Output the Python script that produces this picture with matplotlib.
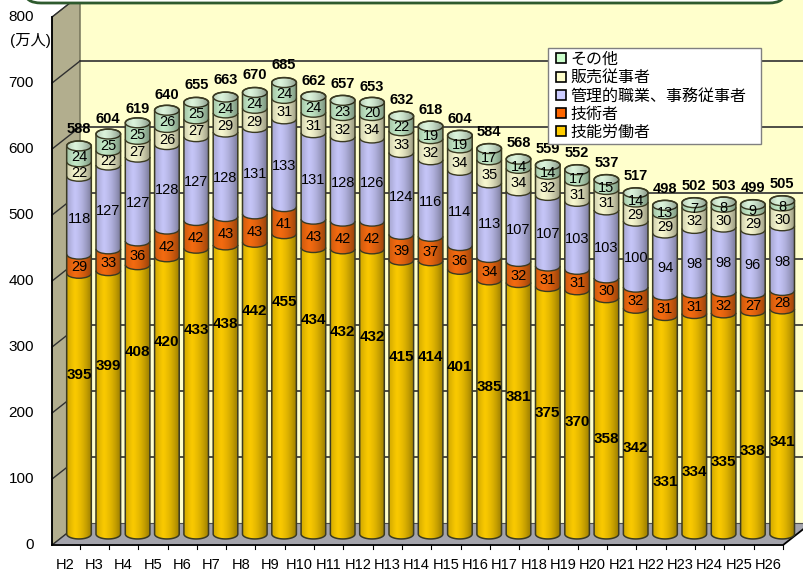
import numpy as np
import matplotlib.pyplot as plt
from matplotlib.patches import Ellipse, Arc, Polygon, FancyBboxPatch
from matplotlib.lines import Line2D

plt.rcParams['font.family'] = ['Liberation Sans', 'Noto Sans CJK JP']

# data (万人)
years = ['H2', 'H3', 'H4', 'H5', 'H6', 'H7', 'H8', 'H9', 'H10', 'H11', 'H12', 'H13',
         'H14', 'H15', 'H16', 'H17', 'H18', 'H19', 'H20', 'H21', 'H22', 'H23', 'H24',
         'H25', 'H26']
worker = [395, 399, 408, 420, 433, 438, 442, 455, 434, 432, 432, 415, 414, 401, 385,
          381, 375, 370, 358, 342, 331, 334, 335, 338, 341]
engineer = [29, 33, 36, 42, 42, 43, 43, 41, 43, 42, 42, 39, 37, 36, 34, 32, 31, 31,
            30, 32, 31, 31, 32, 27, 28]
office = [118, 127, 127, 128, 127, 128, 131, 133, 131, 128, 126, 124, 116, 114, 113,
          107, 107, 103, 103, 100, 94, 98, 98, 96, 98]
sales = [22, 22, 27, 26, 27, 29, 29, 31, 31, 32, 34, 33, 32, 34, 35, 34, 32, 31, 31,
         29, 29, 32, 30, 29, 30]
other = [24, 25, 25, 26, 25, 24, 24, 24, 24, 23, 20, 22, 19, 19, 17, 14, 14, 17, 15,
         14, 13, 7, 8, 9, 8]
totals = [588, 604, 619, 640, 655, 663, 670, 685, 662, 657, 653, 632, 618, 604, 584,
          568, 559, 552, 537, 517, 498, 502, 503, 499, 505]
names = ['技能労働者', '技術者', '管理的職業、事務従事者', '販売従事者', 'その他']

# where the 技能労働者 labels sit in the original (axis value)
worker_label_at = [258, 271, 292, 308, 326, 335, 355, 368, 341, 323, 315, 285, 285,
                   270, 239, 225, 200, 186, 161, 147, 95, 111, 126, 142, 156]

colors = ['#F8C800', '#F26A10', '#C4C4F6', '#F6F6CE', '#C2E8C6']
legend_colors = ['#FFCC00', '#FF6600', '#CCCCFF', '#FFFFCC', '#CCFFCC']
cap_color = '#DAF2DA'
edge = '#3A3A22'

# fake 3d geometry (bar units / value units)
hx, hy = 0.478, 16.7     # half depth offset
bw, eh = 0.84, 15        # cylinder width, ellipse height
xfl = -0.92              # front left edge
xbl = xfl + 2 * hx
xfr = 24.03

fig = plt.figure(figsize=(8.04, 5.71), dpi=100)
ax = fig.add_axes([0, 0, 1, 1])
ax.axis('off')

# walls and floor
ax.add_patch(Polygon([(xbl, hy), (30, hy), (30, 900), (xbl, 900)],
                     closed=True, fc='#FFFFCC', ec='none', zorder=0))
ax.add_patch(Polygon([(xfl, -hy), (xfl, 800 - hy), (xbl, 800 + hy), (xbl, hy)],
                     closed=True, fc='#B2AE8E', ec='#555540', lw=0.8, zorder=0.5))
ax.add_patch(Polygon([(xfl, -hy), (xfr, -hy), (xfr + 2 * hx, hy), (xbl, hy)],
                     closed=True, fc='#A4A4AC', ec='none', zorder=0.5))
for v in range(100, 900, 100):
    ax.plot([xbl, 30], [v + hy, v + hy], color='#303030', lw=1.2, zorder=0.6)
    ax.plot([xfl, xbl], [v - hy, v + hy], color='#303030', lw=1.0, zorder=0.6)
ax.plot([xfl, xbl], [-hy, hy], color='#303030', lw=1.0, zorder=0.6)
ax.plot([xbl, 30], [hy, hy], color='#505050', lw=0.8, zorder=0.6)
ax.plot([xfl, xfr, xfr + 2 * hx], [-hy, -hy, hy], color='black', lw=1.3, zorder=0.7)
ax.plot([xfl, xfl], [-hy, 800 - hy], color='black', lw=1.3, zorder=0.7)
for i in range(-1, len(years)):
    xt = i + 0.5 - hx
    if xt > xfl:
        ax.plot([xt, xt], [-hy, -hy - 6], color='black', lw=0.8, zorder=0.7)

# stacked cylinders
x = np.arange(len(years))
stack = [worker, engineer, office, sales, other]
bottom = np.zeros(len(years))
for j, vals in enumerate(stack):
    vals = np.array(vals, dtype=float)
    z = 2 + j * 0.1
    ax.bar(x, vals, bw, bottom=bottom, color=colors[j], linewidth=0, zorder=z)
    for i in range(len(years)):
        ax.add_patch(Ellipse((x[i], bottom[i]), bw, eh, fc=colors[j], ec='none',
                             zorder=z + 0.05))
        if j > 0:
            ax.add_patch(Arc((x[i], bottom[i]), bw, eh, theta1=180, theta2=360,
                             color=edge, lw=1.0, zorder=3.5))
    bottom = bottom + vals

# shading + outline + cap
prof = np.linspace(0, 1, 64)
alpha = np.where(prof < 0.3, 0.15 * (0.3 - prof) / 0.3,
                 0.38 * ((prof - 0.3) / 0.7) ** 1.6)
shade = np.zeros((1, 64, 4))
shade[0, :, 3] = alpha
th_b = np.linspace(np.pi, 2 * np.pi, 40)
th_t = np.linspace(0, np.pi, 40)
for i in range(len(years)):
    top = bottom[i]
    xs = np.concatenate([x[i] + bw / 2 * np.cos(th_b), x[i] + bw / 2 * np.cos(th_t)])
    ys = np.concatenate([eh / 2 * np.sin(th_b), top + eh / 2 * np.sin(th_t)])
    outline = Polygon(np.column_stack([xs, ys]), closed=True, fc='none', ec=edge,
                      lw=1.1, zorder=3.8)
    ax.add_patch(outline)
    ax.add_patch(Ellipse((x[i], top), bw, eh, fc=cap_color, ec=edge, lw=1.0,
                         zorder=3.3))
    im = ax.imshow(shade, extent=(x[i] - bw / 2, x[i] + bw / 2, -eh / 2, top + eh / 2),
                   aspect='auto', zorder=3.4, interpolation='bilinear')
    im.set_clip_path(outline)

# value labels
bottom = np.zeros(len(years))
for j, vals in enumerate(stack):
    for i in range(len(years)):
        if j == 0:
            ax.text(x[i], worker_label_at[i] - hy, str(vals[i]), ha='center',
                    va='center', fontsize=11, fontweight='bold', zorder=5)
        else:
            ax.text(x[i], bottom[i] + vals[i] / 2 - eh / 2 + 2, str(vals[i]),
                    ha='center', va='center', fontsize=10.5, zorder=5)
    bottom = bottom + np.array(vals)
for i in range(len(years)):
    ax.text(x[i], totals[i] + 25, str(totals[i]), ha='center', va='center',
            fontsize=10.5, fontweight='bold', zorder=5)

# axis labels
for v in range(0, 900, 100):
    ax.text(-1.536, v - hy, str(v), ha='right', va='center', fontsize=11)
ax.text(-1.67, 765 - hy, '(万人)', ha='center', va='center', fontsize=11)
for i, lab in enumerate(years):
    ax.text(x[i] - hx, -47, lab, ha='center', va='center', fontsize=10.5)

# legend
handles = [Line2D([], [], marker='s', linestyle='none', markersize=6.5,
                  markerfacecolor=legend_colors[j], markeredgecolor='black',
                  markeredgewidth=1.2, label=names[j]) for j in range(4, -1, -1)]
leg = ax.legend(handles=handles, loc='upper left',
                bbox_to_anchor=(548 / 804, 1 - 48 / 571 - 0.01, 213 / 804, 0.01),
                bbox_transform=fig.transFigure, mode='expand', fontsize=11.5,
                frameon=True, fancybox=False, framealpha=1, edgecolor='#808080',
                borderpad=0.25, labelspacing=0.2, handlelength=1.1,
                handletextpad=0.05, borderaxespad=0)
leg.get_frame().set_linewidth(1.0)
leg.set_zorder(6)

# rounded title box edge at the very top
fig.patches.append(FancyBboxPatch((25 / 804, 1 - 3 / 571), 760 / 804, 0.1,
                                  boxstyle='round,pad=0,rounding_size=0.02',
                                  transform=fig.transFigure, fc='white',
                                  ec='#2E5A2E', lw=2, zorder=10))

ax.set_xlim(-79 / 29.3, (804 - 79) / 29.3)
ax.set_ylim((534 - 571) / 0.66, 534 / 0.66)

fig.savefig('out.png', dpi=100)
